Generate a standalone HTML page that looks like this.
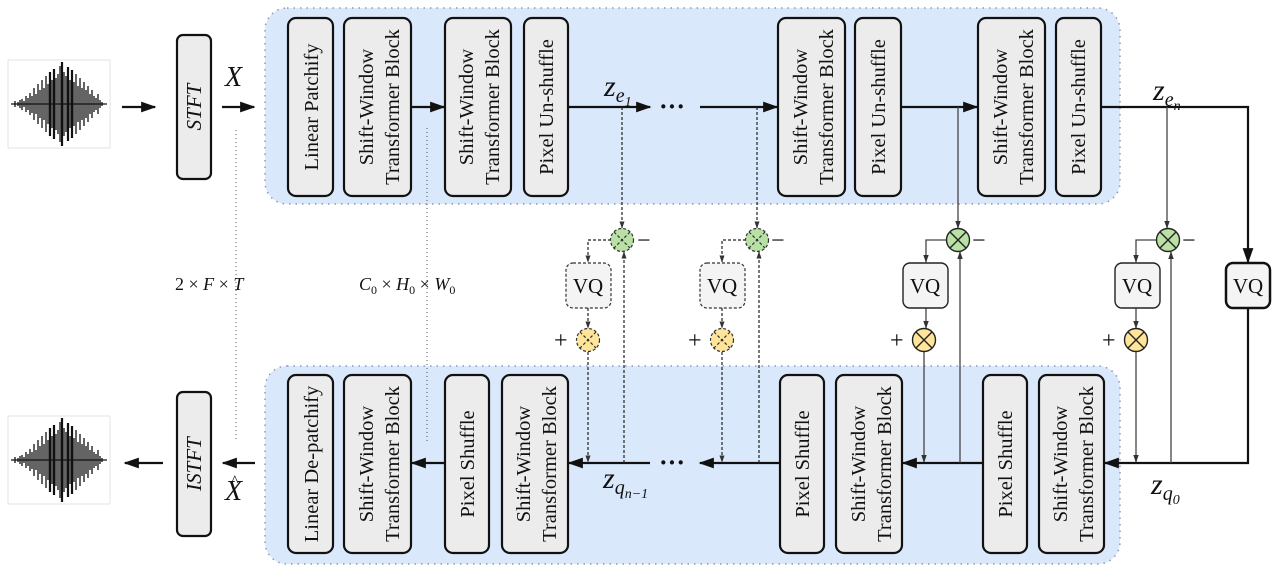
<!DOCTYPE html>
<html><head><meta charset="utf-8"><style>
html,body{margin:0;padding:0;background:#fff;}
svg{display:block;}
text{font-family:"Liberation Serif",serif;fill:#111;}
</style></head><body>
<svg width="1281" height="570" viewBox="0 0 1281 570" xmlns="http://www.w3.org/2000/svg">
<defs>
<marker id="a" viewBox="0 0 10 10" refX="9" refY="5" markerWidth="7" markerHeight="7" orient="auto"><path d="M0,1.5 L10,5 L0,8.5 z" fill="#111"/></marker>
<marker id="s" viewBox="0 0 10 10" refX="9" refY="5" markerWidth="6" markerHeight="6" orient="auto"><path d="M0,1.5 L10,5 L0,8.5 z" fill="#333"/></marker>
<g id="wave">
<rect x="0" y="0" width="102" height="88" fill="#fff" stroke="#ddd" stroke-width="0.8"/>
<path stroke="#111" stroke-width="1.3" fill="none" d="M3,44H99 M7,41V47 M10,42V46 M12,40V48 M14,39V50 M16,41V47 M18,36V52 M20,38V50 M22,33V55 M24,36V53 M26,28V60 M28,34V54 M30,24V64 M32,30V58 M34,20V68 M36,28V60 M38,16V72 M40,24V64 M42,12V76 M44,20V68 M46,9V79 M48,18V70 M50,14V74 M52,6V82 M54,2V86 M56,12V76 M58,16V72 M60,7V81 M62,20V68 M64,10V78 M66,22V66 M68,14V74 M70,26V62 M72,18V70 M74,28V60 M76,22V66 M78,30V58 M80,26V62 M82,34V54 M84,30V58 M86,36V52 M88,38V50 M90,34V54 M92,40V48 M94,42V46"/>
<path stroke="#111" stroke-width="2.2" fill="none" d="M54,2V86 M46,9V79 M60,7V81 M42,12V76 M64,10V78"/>
</g>
</defs>

<rect x="265" y="8" width="855" height="196" rx="22" fill="#dae8fb" stroke="#8a9bb5" stroke-width="1.5" stroke-dasharray="1.5 5"/>
<rect x="265" y="366" width="855" height="198" rx="22" fill="#dae8fb" stroke="#8a9bb5" stroke-width="1.5" stroke-dasharray="1.5 5"/>

<use href="#wave" x="8" y="60"/>
<use href="#wave" x="8" y="416"/>

<rect x="177" y="35" width="34" height="144" rx="6" fill="#ececec" stroke="#111" stroke-width="2.2"/>
<text transform="translate(201,107) rotate(-90)" text-anchor="middle" font-size="21" font-style="italic">STFT</text>
<rect x="177" y="392" width="34" height="144" rx="6" fill="#ececec" stroke="#111" stroke-width="2.2"/>
<text transform="translate(201,464) rotate(-90)" text-anchor="middle" font-size="21" font-style="italic">ISTFT</text>

<g fill="#ececec" stroke="#111" stroke-width="2.2">
<rect x="288" y="18" width="45" height="178" rx="8"/>
<rect x="344" y="18" width="67" height="178" rx="8"/>
<rect x="445" y="18" width="66" height="178" rx="8"/>
<rect x="524" y="18" width="44" height="178" rx="8"/>
<rect x="778" y="18" width="67" height="178" rx="8"/>
<rect x="855" y="18" width="46" height="178" rx="8"/>
<rect x="978" y="18" width="67" height="178" rx="8"/>
<rect x="1056" y="18" width="45" height="178" rx="8"/>
<rect x="288" y="375" width="45" height="178" rx="8"/>
<rect x="344" y="375" width="67" height="178" rx="8"/>
<rect x="445" y="375" width="44" height="178" rx="8"/>
<rect x="502" y="375" width="66" height="178" rx="8"/>
<rect x="780" y="375" width="44" height="178" rx="8"/>
<rect x="836" y="375" width="66" height="178" rx="8"/>
<rect x="983" y="375" width="44" height="178" rx="8"/>
<rect x="1039" y="375" width="65" height="178" rx="8"/>
</g>

<g font-size="20.5" text-anchor="middle">
<text transform="translate(318,107) rotate(-90)">Linear Patchify</text>
<text transform="translate(373,107) rotate(-90)">Shift-Window</text>
<text transform="translate(399,107) rotate(-90)">Transformer Block</text>
<text transform="translate(473,107) rotate(-90)">Shift-Window</text>
<text transform="translate(499,107) rotate(-90)">Transformer Block</text>
<text transform="translate(553,107) rotate(-90)">Pixel Un-shuffle</text>
<text transform="translate(807,107) rotate(-90)">Shift-Window</text>
<text transform="translate(833,107) rotate(-90)">Transformer Block</text>
<text transform="translate(885,107) rotate(-90)">Pixel Un-shuffle</text>
<text transform="translate(1007,107) rotate(-90)">Shift-Window</text>
<text transform="translate(1033,107) rotate(-90)">Transformer Block</text>
<text transform="translate(1085,107) rotate(-90)">Pixel Un-shuffle</text>

<text transform="translate(318,464) rotate(-90)">Linear De-patchify</text>
<text transform="translate(373,464) rotate(-90)">Shift-Window</text>
<text transform="translate(399,464) rotate(-90)">Transformer Block</text>
<text transform="translate(474,464) rotate(-90)">Pixel Shuffle</text>
<text transform="translate(530,464) rotate(-90)">Shift-Window</text>
<text transform="translate(556,464) rotate(-90)">Transformer Block</text>
<text transform="translate(809,464) rotate(-90)">Pixel Shuffle</text>
<text transform="translate(865,464) rotate(-90)">Shift-Window</text>
<text transform="translate(891,464) rotate(-90)">Transformer Block</text>
<text transform="translate(1012,464) rotate(-90)">Pixel Shuffle</text>
<text transform="translate(1067,464) rotate(-90)">Shift-Window</text>
<text transform="translate(1093,464) rotate(-90)">Transformer Block</text>
</g>

<g stroke="#111" stroke-width="2.2" fill="none">
<line x1="122" y1="107" x2="155" y2="107" marker-end="url(#a)"/>
<line x1="222" y1="107" x2="254" y2="107" marker-end="url(#a)"/>
<line x1="411" y1="107" x2="444" y2="107" marker-end="url(#a)"/>
<line x1="568" y1="107" x2="650" y2="107" marker-end="url(#a)"/>
<line x1="700" y1="107" x2="777" y2="107" marker-end="url(#a)"/>
<line x1="901" y1="107" x2="977" y2="107" marker-end="url(#a)"/>
<polyline points="1101,107 1248,107 1248,262" marker-end="url(#a)"/>
<polyline points="1248,308 1248,463 1105,463" marker-end="url(#a)"/>
<line x1="983" y1="463" x2="903" y2="463" marker-end="url(#a)"/>
<line x1="780" y1="463" x2="700" y2="463" marker-end="url(#a)"/>
<line x1="650" y1="463" x2="569" y2="463" marker-end="url(#a)"/>
<line x1="445" y1="463" x2="412" y2="463" marker-end="url(#a)"/>
<line x1="255" y1="463" x2="223" y2="463" marker-end="url(#a)"/>
<line x1="163" y1="463" x2="125" y2="463" marker-end="url(#a)"/>
</g>
<text x="659" y="115" font-size="26" font-weight="bold">···</text>
<text x="659" y="471" font-size="26" font-weight="bold">···</text>

<g stroke="#555" stroke-width="1" stroke-dasharray="1 3">
<line x1="236" y1="130" x2="236" y2="442"/>
<line x1="427" y1="128" x2="427" y2="442"/>
</g>
<g font-size="18">
<text x="175" y="290">2 × <tspan font-style="italic">F</tspan> × <tspan font-style="italic">T</tspan></text>
<text x="359" y="290"><tspan font-style="italic">C</tspan><tspan font-size="12" dy="4">0</tspan><tspan dy="-4"> × </tspan><tspan font-style="italic">H</tspan><tspan font-size="12" dy="4">0</tspan><tspan dy="-4"> × </tspan><tspan font-style="italic">W</tspan><tspan font-size="12" dy="4">0</tspan></text>
</g>

<text x="225" y="86" font-size="28" font-style="italic">X</text>
<text x="225" y="500" font-size="28" font-style="italic">X</text>
<text x="231" y="486" font-size="16">^</text>
<text x="604" y="96" font-size="30" font-style="italic">z<tspan font-size="20" dy="6">e</tspan><tspan font-size="14" dy="4">1</tspan></text>
<text x="1153" y="100" font-size="30" font-style="italic">z<tspan font-size="20" dy="6">e</tspan><tspan font-size="14" dy="4">n</tspan></text>
<text x="603" y="488" font-size="30" font-style="italic">z<tspan font-size="20" dy="6">q</tspan><tspan font-size="14" dy="4">n−1</tspan></text>
<text x="1151" y="494" font-size="30" font-style="italic">z<tspan font-size="20" dy="6">q</tspan><tspan font-size="14" dy="4">0</tspan></text>

<g stroke="#222" stroke-width="1.2" fill="none" stroke-dasharray="3 2">
<line x1="622" y1="107" x2="622" y2="228" marker-end="url(#s)"/>
<polyline points="611,240 588,240 588,262" marker-end="url(#s)"/>
<line x1="588" y1="308" x2="588" y2="328" marker-end="url(#s)"/>
<line x1="588" y1="352" x2="588" y2="462" marker-end="url(#s)"/>
<line x1="624" y1="463" x2="624" y2="252" marker-end="url(#s)"/>
<line x1="757" y1="107" x2="757" y2="228" marker-end="url(#s)"/>
<polyline points="746,240 722,240 722,262" marker-end="url(#s)"/>
<line x1="722" y1="308" x2="722" y2="328" marker-end="url(#s)"/>
<line x1="722" y1="352" x2="722" y2="462" marker-end="url(#s)"/>
<line x1="759" y1="463" x2="759" y2="252" marker-end="url(#s)"/>
</g>
<g stroke="#333" stroke-width="1.2" stroke-dasharray="3 2">
<rect x="566" y="263" width="45" height="45" rx="7" fill="#f4f4f4"/>
<rect x="700" y="263" width="45" height="45" rx="7" fill="#f4f4f4"/>
<circle cx="622" cy="240" r="11.5" fill="#b9e0a5"/>
<circle cx="757" cy="240" r="11.5" fill="#b9e0a5"/>
<circle cx="588" cy="340" r="11.5" fill="#ffe599"/>
<circle cx="722" cy="340" r="11.5" fill="#ffe599"/>
<path d="M614,232 L630,248 M630,232 L614,248 M749,232 L765,248 M765,232 L749,248 M580,332 L596,348 M596,332 L580,348 M714,332 L730,348 M730,332 L714,348"/>
</g>

<g stroke="#444" stroke-width="1.3" fill="none">
<line x1="958" y1="107" x2="958" y2="228" marker-end="url(#s)"/>
<polyline points="946,240 926,240 926,262" marker-end="url(#s)"/>
<line x1="926" y1="308" x2="926" y2="328" marker-end="url(#s)"/>
<line x1="924" y1="352" x2="924" y2="462" marker-end="url(#s)"/>
<line x1="960" y1="463" x2="960" y2="252" marker-end="url(#s)"/>
<line x1="1167" y1="107" x2="1167" y2="228" marker-end="url(#s)"/>
<polyline points="1156,240 1136,240 1136,262" marker-end="url(#s)"/>
<line x1="1136" y1="308" x2="1136" y2="328" marker-end="url(#s)"/>
<line x1="1136" y1="352" x2="1136" y2="462" marker-end="url(#s)"/>
<line x1="1171" y1="463" x2="1171" y2="252" marker-end="url(#s)"/>
</g>
<g stroke="#222" stroke-width="1.4">
<rect x="903" y="263" width="45" height="45" rx="7" fill="#f4f4f4"/>
<rect x="1115" y="263" width="45" height="45" rx="7" fill="#f4f4f4"/>
<circle cx="958" cy="240" r="11.5" fill="#b9e0a5"/>
<circle cx="1168" cy="240" r="11.5" fill="#b9e0a5"/>
<circle cx="924" cy="340" r="11.5" fill="#ffe599"/>
<circle cx="1136" cy="340" r="11.5" fill="#ffe599"/>
<path d="M950,232 L966,248 M966,232 L950,248 M1160,232 L1176,248 M1176,232 L1160,248 M916,332 L932,348 M932,332 L916,348 M1128,332 L1144,348 M1144,332 L1128,348"/>
</g>
<rect x="1226" y="263" width="44" height="45" rx="7" fill="#f4f4f4" stroke="#111" stroke-width="2.5"/>

<g font-size="21" text-anchor="middle">
<text x="588" y="293">VQ</text>
<text x="722" y="293">VQ</text>
<text x="925" y="293">VQ</text>
<text x="1137" y="293">VQ</text>
<text x="1248" y="293">VQ</text>
</g>
<g font-size="24">
<text x="637" y="248">−</text><text x="771" y="248">−</text><text x="972" y="248">−</text><text x="1182" y="248">−</text>
<text x="554" y="348">+</text><text x="688" y="348">+</text><text x="890" y="348">+</text><text x="1102" y="348">+</text>
</g>
</svg>
</body></html>
